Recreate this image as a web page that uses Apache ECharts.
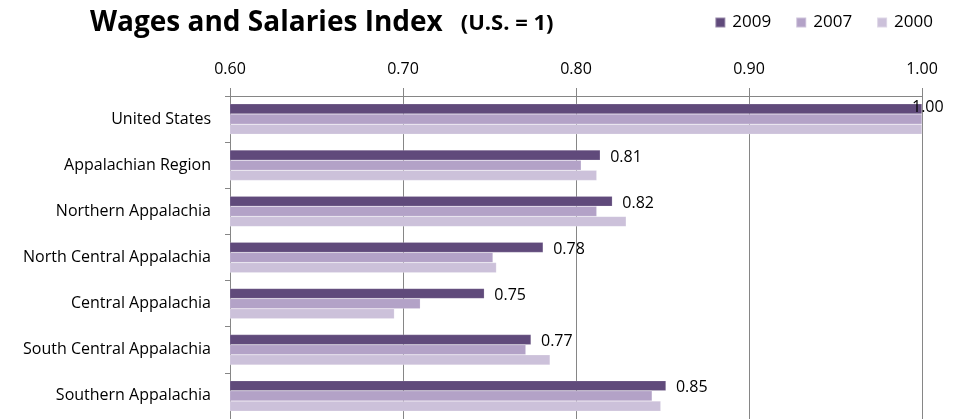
<!DOCTYPE html>
<html>
<head>
<meta charset="utf-8">
<script src="https://cdn.jsdelivr.net/npm/echarts@6/dist/echarts.min.js"></script>
<style>
  html, body { margin: 0; padding: 0; background: #fff; }
  #chart { width: 960px; height: 419px; }
</style>
</head>
<body>
<div id="chart"></div>
<script>
const regions = [
  'United States',
  'Appalachian Region',
  'Northern Appalachia',
  'North Central Appalachia',
  'Central Appalachia',
  'South Central Appalachia',
  'Southern Appalachia'
]
const years = ['2009', '2007', '2000']
const idx2009 = [1.00, 0.814, 0.821, 0.781, 0.747, 0.774, 0.852]
const idx2007 = [1.00, 0.803, 0.812, 0.752, 0.710, 0.771, 0.844]
const idx2000 = [1.00, 0.812, 0.829, 0.754, 0.695, 0.785, 0.849]
const xTicks = { min: 0.6, max: 1.0, step: 0.1 }

const colors = ['#604a7b', '#b3a2c7', '#ccc1da']
const font = '"Open Sans", Lato, sans-serif'

const chart = echarts.init(document.getElementById('chart'))

function barSeries(name, data, color, withLabel) {
  return {
    name,
    type: 'bar',
    data: data.map((v, i) => {
      const item = { value: v }
      // the 1.00 label sits over the end of the bar, not past it
      if (withLabel && i === 0) item.label = { offset: [-20, -1] }
      return item
    }),
    barGap: '0%',
    barCategoryGap: '34%',
    itemStyle: { color, borderColor: 'rgba(255,255,255,0.35)', borderWidth: 0.5 },
    label: withLabel ? {
      show: true,
      position: 'right',
      distance: 10,
      color: '#000',
      fontFamily: font,
      fontSize: 16,
      offset: [0, 2],
      formatter: p => p.value.toFixed(2)
    } : { show: false },
    emphasis: { disabled: true },
    animation: false
  }
}

chart.setOption({
  backgroundColor: '#fff',
  animation: false,
  title: {
    left: 90,
    top: 9,
    padding: 0,
    text: '{a|Wages and Salaries Index}{b|(U.S. = 1)}',
    textStyle: {
      rich: {
        a: { fontFamily: font, fontWeight: 'bold', fontSize: 28, color: '#000' },
        b: { fontFamily: font, fontWeight: 'bold', fontSize: 22, color: '#000', padding: [0, 0, -2, 18] }
      }
    }
  },
  legend: {
    right: 27,
    top: 14,
    padding: 0,
    itemWidth: 10,
    itemHeight: 10,
    itemGap: 24,
    icon: 'rect',
    data: years,
    textStyle: { fontFamily: font, fontSize: 17, color: '#000', padding: [0, 0, 0, 2] }
  },
  grid: { left: 230, right: 38, top: 96, height: 328 },
  xAxis: {
    type: 'value',
    position: 'top',
    min: xTicks.min,
    max: xTicks.max,
    interval: xTicks.step,
    axisLine: { show: true, lineStyle: { color: '#868686' } },
    axisTick: { show: true, length: 8, lineStyle: { color: '#868686' } },
    axisLabel: { color: '#000', fontFamily: font, fontSize: 16, margin: 19, formatter: v => v.toFixed(2) },
    splitLine: { show: true, lineStyle: { color: '#868686' } }
  },
  yAxis: {
    type: 'category',
    inverse: true,
    data: regions,
    axisLine: { show: true, lineStyle: { color: '#868686' } },
    axisTick: { show: true, length: 5, lineStyle: { color: '#868686' } },
    axisLabel: { color: '#000', fontFamily: font, fontSize: 16, margin: 19 }
  },
  series: [
    barSeries(years[0], idx2009, colors[0], true),
    barSeries(years[1], idx2007, colors[1], false),
    barSeries(years[2], idx2000, colors[2], false)
  ]
})
</script>
</body>
</html>
